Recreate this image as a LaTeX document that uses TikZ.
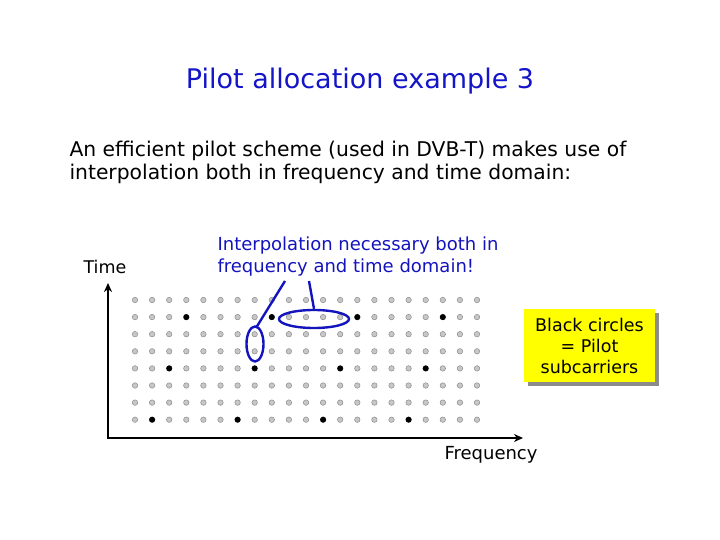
\documentclass[tikz,border=0pt]{standalone}
\usepackage{fontspec}
\setmainfont{DejaVu Sans}
\usetikzlibrary{arrows.meta,shapes.geometric}
\definecolor{titleblue}{RGB}{20,20,200}
\definecolor{elblue}{RGB}{20,20,190}
\definecolor{boxyellow}{RGB}{255,255,0}
\begin{document}
\begin{tikzpicture}[x=1pt,y=-1pt,
  gdot/.style={circle,fill=black!22,draw=black!45,line width=0.5pt,inner sep=0pt,minimum size=5.5pt},
  bdot/.style={circle,fill=black,inner sep=0pt,minimum size=6pt},
  lbl/.style={anchor=west,align=left,font=\fontsize{17.5}{22}\selectfont},
  axis/.style={line width=2.2pt,-{Stealth[length=9pt,width=8pt]}},
  markline/.style={draw=elblue,line width=2.4pt}]
\useasboundingbox (0,0) rectangle (720,540);
\node[text=titleblue,font=\fontsize{27}{30}\selectfont] (title) at (360,81) {Pilot allocation example 3};
\node[anchor=west,align=left,font=\fontsize{20.3}{23}\selectfont] (intro) at (66,162) {An efficient pilot scheme (used in DVB-T) makes use of\\interpolation both in frequency and time domain:};
\node[lbl] (time) at (80,267) {Time};
\node[lbl,text=elblue,font=\fontsize{18}{22}\selectfont] (interp) at (214,257) {Interpolation necessary both in\\frequency and time domain!};
\coordinate (o) at (108,438);
\coordinate (ytop) at (108,283);
\coordinate (xend) at (523,438);
\draw[axis] (o) -- (ytop);
\draw[axis] ([xshift=-1pt]o) -- (xend);
\node[lbl,font=\fontsize{18}{22}\selectfont] (freq) at (441,455) {Frequency};
\foreach \r in {0,...,7}{
  \foreach \c in {0,...,20}{
    \node[gdot] (d-\r-\c) at (135+17.1*\c,300+17.1*\r) {};
  }
}
\foreach \c in {3,8,13,18}{\node[bdot] at (d-1-\c) {};}
\foreach \c in {2,7,12,17}{\node[bdot] at (d-4-\c) {};}
\foreach \c in {1,6,11,16}{\node[bdot] at (d-7-\c) {};}
\node[markline,ellipse,minimum width=17pt,minimum height=35pt,inner sep=0pt] (e1) at (255,344) {};
\node[markline,ellipse,minimum width=70pt,minimum height=18pt,inner sep=0pt] (e2) at (314,319) {};
\coordinate (l1) at (285,281);
\coordinate (l2) at (309,281);
\draw[markline] (e1.north) ++(2,1) -- (l1);
\draw[markline] (e2.north) -- (l2);
\fill[black!45] (528,313) rectangle (659,386);
\node[fill=boxyellow,minimum width=131pt,minimum height=73pt,align=center,inner sep=0pt,font=\fontsize{17.5}{21}\selectfont] (box) at (589.5,345.5) {Black circles\\= Pilot\\subcarriers};
\end{tikzpicture}
\end{document}
